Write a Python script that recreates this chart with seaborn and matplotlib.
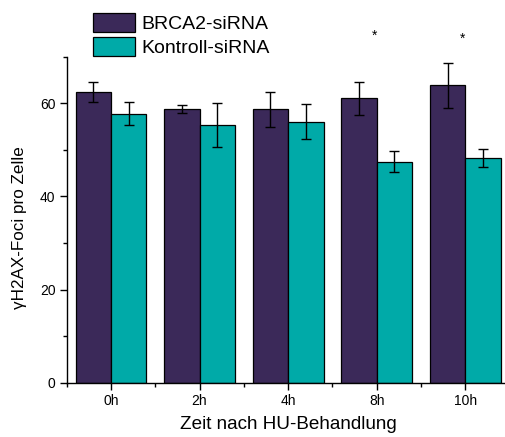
import matplotlib
matplotlib.use("Agg")
import matplotlib.pyplot as plt
from matplotlib.ticker import MultipleLocator, FixedLocator
import seaborn as sns
import pandas as pd

# Mean foci counts and error per time point
zeitpunkte = ["0h", "2h", "4h", "8h", "10h"]
brca2_mean = [62.4, 58.8, 58.7, 61.1, 63.9]
brca2_err = [2.2, 0.9, 3.8, 3.5, 4.8]
kontroll_mean = [57.8, 55.3, 56.1, 47.5, 48.3]
kontroll_err = [2.4, 4.7, 3.8, 2.3, 1.9]
gruppen = ["BRCA2-siRNA", "Kontroll-siRNA"]
signifikant = ["8h", "10h"]

farben = {"BRCA2-siRNA": "#3b2959", "Kontroll-siRNA": "#00aaa8"}

df = pd.DataFrame({
    "Zeit": zeitpunkte * 2,
    "Gruppe": [gruppen[0]] * len(zeitpunkte) + [gruppen[1]] * len(zeitpunkte),
    "Foci": brca2_mean + kontroll_mean,
    "Fehler": brca2_err + kontroll_err,
})

sns.set_theme(style="ticks")
plt.rcParams["font.family"] = ["Liberation Sans", "DejaVu Sans"]
plt.rcParams["text.color"] = "black"
plt.rcParams["axes.labelcolor"] = "black"

fig = plt.figure(figsize=(5.05, 4.37), dpi=100)
ax = fig.add_axes([0.132, 0.1243, 0.877, 0.7457])

sns.barplot(data=df, x="Zeit", y="Foci", hue="Gruppe", order=zeitpunkte,
            hue_order=gruppen, palette=farben, errorbar=None, width=0.8,
            edgecolor="black", linewidth=0.9, saturation=1, ax=ax)

# Error bars on top of each bar, centred on the drawn patches
bars = [p for p in ax.patches if p.get_height() > 0]
fehler = brca2_err + kontroll_err
for p, e in zip(bars, fehler):
    xc = p.get_x() + p.get_width() / 2
    ax.errorbar(xc, p.get_height(), yerr=e, fmt="none", ecolor="black",
                elinewidth=1.0, capsize=3.3, capthick=1.0, zorder=5)

# Significance markers above the time points
for z in signifikant:
    i = zeitpunkte.index(z)
    ax.text(i - 0.03, 74.5 if z == "8h" else 73.9, "*", ha="center", va="center",
            fontsize=10, clip_on=False)

ax.set_xlim(-0.5, 4.5)
ax.set_ylim(0, 70)
ax.yaxis.set_major_locator(MultipleLocator(20))
ax.yaxis.set_minor_locator(FixedLocator([10, 30, 50, 70]))
ax.xaxis.set_minor_locator(FixedLocator([-0.5, 0.5, 1.5, 2.5, 3.5, 4.5]))
ax.tick_params(axis="both", which="major", direction="out", length=5,
               width=1, labelsize=10, color="black", labelcolor="black")
ax.tick_params(axis="both", which="minor", direction="out", length=3,
               width=1, color="black")
ax.tick_params(axis="x", pad=3)
ax.tick_params(axis="y", pad=3)
for s in ["left", "bottom"]:
    ax.spines[s].set_linewidth(1.0)
    ax.spines[s].set_color("black")
sns.despine(ax=ax)

ax.set_xlabel("Zeit nach HU-Behandlung", fontsize=13.6, labelpad=6)
ax.set_ylabel("γH2AX-Foci pro Zelle", fontsize=12.3)
ax.yaxis.set_label_coords(-0.09, 0.475)

ax.legend_.remove()
handles, labels = ax.get_legend_handles_labels()
fig.legend(handles, labels, loc="upper left", bbox_to_anchor=(0.184, 0.970),
           frameon=False, fontsize=14, handlelength=2.17, handleheight=1.08,
           labelspacing=0.22, handletextpad=0.3, borderaxespad=0, borderpad=0)

fig.savefig("out.png", dpi=100)
